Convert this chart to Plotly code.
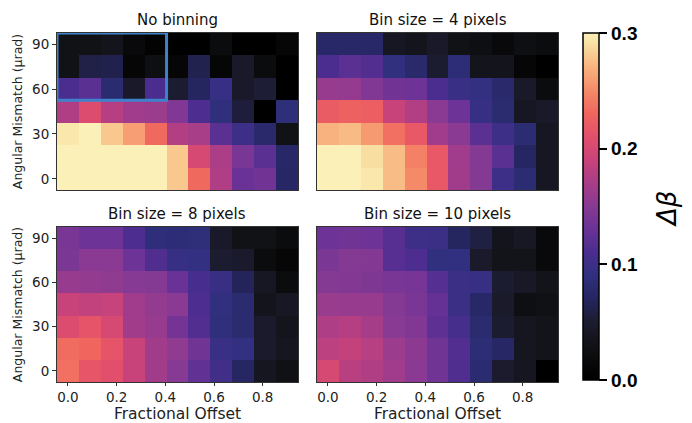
import plotly.graph_objects as go

# ---- data -------------------------------------------------------------
offsets = [0.0, 0.09, 0.18, 0.27, 0.36, 0.45, 0.54, 0.63, 0.72, 0.81, 0.9]
mismatch = [90, 75, 60, 45, 30, 15, 0]   # rows listed top -> bottom
x_ticks = [0.0, 0.2, 0.4, 0.6, 0.8]
y_ticks = [0, 30, 60, 90]
cbar_ticks = [0.0, 0.1, 0.2, 0.3]

no_binning = [
    [0.030, 0.030, 0.035, 0.015, 0.005, 0.000, 0.000, 0.020, 0.000, 0.000, 0.010],
    [0.030, 0.060, 0.062, 0.010, 0.025, 0.010, 0.063, 0.010, 0.045, 0.020, 0.000],
    [0.110, 0.120, 0.080, 0.045, 0.110, 0.050, 0.070, 0.095, 0.045, 0.052, 0.000],
    [0.175, 0.205, 0.178, 0.165, 0.163, 0.145, 0.112, 0.088, 0.055, 0.000, 0.086],
    [0.295, 0.300, 0.280, 0.260, 0.232, 0.176, 0.170, 0.120, 0.100, 0.078, 0.030],
    [0.300, 0.300, 0.300, 0.300, 0.300, 0.280, 0.200, 0.172, 0.140, 0.120, 0.075],
    [0.300, 0.300, 0.300, 0.300, 0.300, 0.280, 0.232, 0.175, 0.130, 0.135, 0.073],
]
bin4 = [
    [0.075, 0.075, 0.075, 0.040, 0.035, 0.045, 0.030, 0.025, 0.015, 0.025, 0.020],
    [0.110, 0.120, 0.115, 0.090, 0.078, 0.050, 0.085, 0.035, 0.035, 0.010, 0.000],
    [0.160, 0.158, 0.145, 0.135, 0.133, 0.110, 0.097, 0.092, 0.078, 0.045, 0.020],
    [0.222, 0.226, 0.224, 0.190, 0.176, 0.152, 0.132, 0.095, 0.080, 0.040, 0.045],
    [0.270, 0.274, 0.258, 0.236, 0.218, 0.165, 0.152, 0.120, 0.100, 0.082, 0.040],
    [0.300, 0.300, 0.290, 0.275, 0.245, 0.218, 0.165, 0.148, 0.120, 0.072, 0.040],
    [0.300, 0.300, 0.295, 0.275, 0.250, 0.218, 0.166, 0.148, 0.100, 0.082, 0.040],
]
bin8 = [
    [0.140, 0.132, 0.133, 0.112, 0.087, 0.085, 0.086, 0.045, 0.030, 0.030, 0.020],
    [0.142, 0.152, 0.152, 0.133, 0.113, 0.095, 0.092, 0.050, 0.047, 0.020, 0.010],
    [0.160, 0.157, 0.155, 0.150, 0.148, 0.130, 0.108, 0.096, 0.068, 0.040, 0.020],
    [0.190, 0.186, 0.189, 0.165, 0.157, 0.152, 0.112, 0.090, 0.080, 0.035, 0.042],
    [0.205, 0.215, 0.200, 0.166, 0.160, 0.136, 0.115, 0.088, 0.080, 0.047, 0.035],
    [0.234, 0.230, 0.215, 0.190, 0.166, 0.155, 0.134, 0.097, 0.092, 0.047, 0.038],
    [0.236, 0.216, 0.210, 0.190, 0.166, 0.150, 0.125, 0.103, 0.072, 0.038, 0.028],
]
bin10 = [
    [0.132, 0.134, 0.133, 0.118, 0.100, 0.098, 0.070, 0.058, 0.035, 0.042, 0.015],
    [0.142, 0.148, 0.147, 0.118, 0.112, 0.090, 0.091, 0.046, 0.034, 0.034, 0.015],
    [0.148, 0.147, 0.144, 0.140, 0.139, 0.117, 0.098, 0.095, 0.050, 0.043, 0.034],
    [0.161, 0.159, 0.160, 0.148, 0.141, 0.127, 0.098, 0.075, 0.046, 0.025, 0.029],
    [0.174, 0.178, 0.169, 0.151, 0.145, 0.123, 0.106, 0.080, 0.050, 0.039, 0.034],
    [0.182, 0.187, 0.179, 0.163, 0.153, 0.134, 0.115, 0.084, 0.074, 0.039, 0.034],
    [0.200, 0.180, 0.175, 0.165, 0.152, 0.134, 0.114, 0.081, 0.048, 0.039, 0.000],
]
panel_titles = ["No binning", "Bin size = 4 pixels", "Bin size = 8 pixels", "Bin size = 10 pixels"]
panels = [no_binning, bin4, bin8, bin10]

# ---- style ------------------------------------------------------------
colorscale = [
    [0.000, "#000000"],
    [0.100, "#111215"],
    [0.167, "#1c1c30"],
    [0.233, "#252560"],
    [0.300, "#30307f"],
    [0.367, "#4a2d8f"],
    [0.433, "#6a3296"],
    [0.500, "#873a93"],
    [0.567, "#a83d88"],
    [0.633, "#c8437a"],
    [0.700, "#e24f6c"],
    [0.767, "#f0655e"],
    [0.833, "#f58a68"],
    [0.900, "#f8b27f"],
    [0.967, "#f8dea0"],
    [1.000, "#faf0b8"],
]

W, H = 692, 423
def px_x(p):
    return p / W
def px_y(p):
    return 1 - p / H

domains = [
    ([px_x(57), px_x(298)], [px_y(190), px_y(33)]),
    ([px_x(317), px_x(558)], [px_y(190), px_y(33)]),
    ([px_x(57), px_x(298)], [px_y(382), px_y(227)]),
    ([px_x(317), px_x(558)], [px_y(382), px_y(227)]),
]

font_family = "DejaVu Sans"
fig = go.Figure()
layout = dict(
    width=W, height=H,
    margin=dict(l=0, r=0, t=0, b=0),
    paper_bgcolor="white", plot_bgcolor="white",
    font=dict(family=font_family, size=13, color="#222"),
    coloraxis=dict(
        colorscale=colorscale, cmin=0.0, cmax=0.3,
        colorbar=dict(
            thickness=16, len=347, lenmode="pixels", ypad=0, xpad=0,
            x=px_x(583), xanchor="left", y=px_y(206.5), yanchor="middle",
            outlinewidth=1.5, outlinecolor="black",
            tickvals=cbar_ticks, ticktext=["<b>%.1f</b>" % v for v in cbar_ticks],
            ticks="outside", ticklen=8, tickwidth=1.5, tickcolor="black",
            tickfont=dict(family="Liberation Sans", size=19, color="black"),
        ),
    ),
    annotations=[], shapes=[],
)

xr = [offsets[0] - 0.045, offsets[-1] + 0.045]
yr = [min(mismatch) - 7.5, max(mismatch) + 7.5]

for i, (z, title) in enumerate(zip(panels, panel_titles)):
    n = i + 1
    xa = "xaxis" if n == 1 else "xaxis%d" % n
    ya = "yaxis" if n == 1 else "yaxis%d" % n
    xref = "x" if n == 1 else "x%d" % n
    yref = "y" if n == 1 else "y%d" % n
    fig.add_trace(go.Heatmap(
        x=offsets, y=mismatch, z=z, coloraxis="coloraxis",
        xaxis=xref, yaxis=yref,
    ))
    bottom = i >= 2
    left = i % 2 == 0
    layout[xa] = dict(
        domain=domains[i][0], range=xr, anchor=yref,
        tickvals=x_ticks if bottom else [], ticktext=["%.1f" % v for v in x_ticks] if bottom else [],
        ticks="outside" if bottom else "", ticklen=3, tickcolor="#333",
        showline=True, mirror=True, linecolor="#333", linewidth=1,
        showgrid=False, zeroline=False,
        tickfont=dict(size=13.5, color="#222"),
        title=dict(text="Fractional Offset" if bottom else "", font=dict(size=15.5, color="#222"), standoff=0),
    )
    layout[ya] = dict(
        domain=domains[i][1], range=yr, anchor=xref,
        tickvals=y_ticks if left else [], ticks="outside" if left else "", ticklen=4, tickcolor="#333",
        showline=True, mirror=True, linecolor="#333", linewidth=1,
        showgrid=False, zeroline=False,
        tickfont=dict(size=13.5, color="#222"),
        title=dict(text="Angular Mismatch (μrad)" if left else "", font=dict(size=12.5, color="#222"), standoff=6),
    )
    layout["annotations"].append(dict(
        text=title, xref="paper", yref="paper",
        x=(domains[i][0][0] + domains[i][0][1]) / 2, y=domains[i][1][1],
        xanchor="center", yanchor="bottom", yshift=2, showarrow=False,
        font=dict(size=15, color="#111"),
    ))

# highlight box on the first panel (covers first 5 offsets, top 3 mismatches)
layout["shapes"].append(dict(
    type="rect", xref="x", yref="y", layer="above",
    x0=offsets[0] - 0.045, x1=offsets[4] + 0.045,
    y0=mismatch[2] - 7.5, y1=mismatch[0] + 7.5,
    line=dict(color="#3f82cc", width=3),
))

layout["annotations"].append(dict(
    text="<i>Δβ</i>", xref="paper", yref="paper",
    x=px_x(667), y=px_y(209), textangle=-90, showarrow=False,
    xanchor="center", yanchor="middle",
    font=dict(family="DejaVu Sans", size=26, color="black"),
))

fig.update_layout(**layout)
fig.write_html(
    "out.html",
    config={"displayModeBar": False},
    post_script="document.body.style.margin='0';document.body.style.overflow='hidden';",
)
